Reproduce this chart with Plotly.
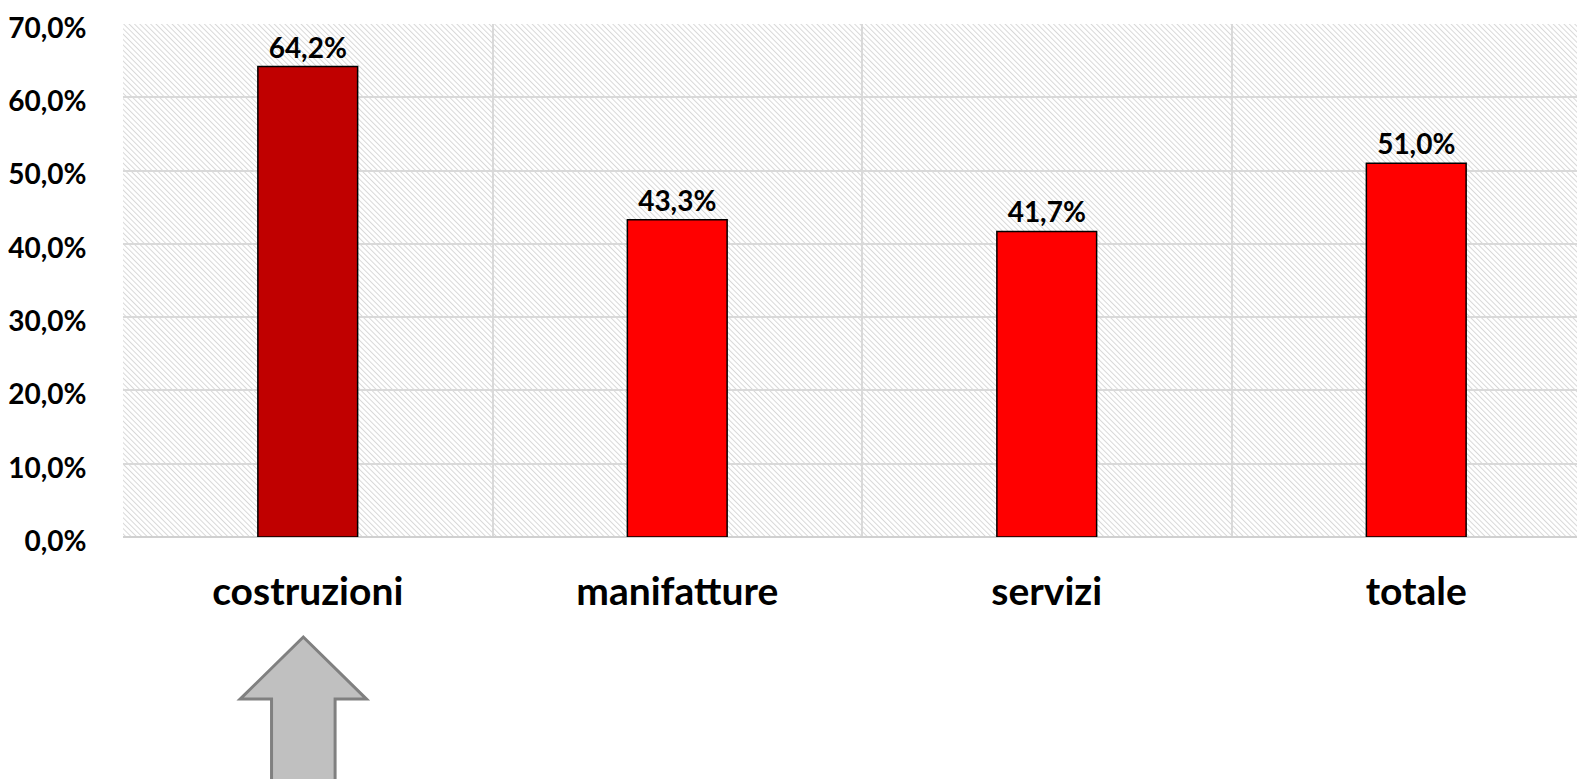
import base64
import plotly.graph_objects as go

categories = ["costruzioni", "manifatture", "servizi", "totale"]
values = [64.2, 43.3, 41.7, 51.0]
bar_colors = ["#c00000", "#ff0000", "#ff0000", "#ff0000"]
y_ticks = [0, 10, 20, 30, 40, 50, 60, 70]
y_ticktext = [f"{v:.1f}%".replace(".", ",") for v in y_ticks]

# page body has an 8px default margin, so the figure starts at (8, 8)
W, H = 1577, 771
ML, MR, MT, MB = 115, 0, 16, 242
PW, PH = W - ML - MR, H - MT - MB

# hatch background (light downward diagonal)
svg = f'''<svg xmlns="http://www.w3.org/2000/svg" width="{PW}" height="{PH}">
<defs><pattern id="p" patternUnits="userSpaceOnUse" width="3.8" height="8" patternTransform="rotate(-45)">
<rect x="0" y="0" width="1" height="8" fill="#d8d8d8"/></pattern></defs>
<rect width="{PW}" height="{PH}" fill="#ffffff"/>
<rect width="{PW}" height="{PH}" fill="url(#p)"/>
</svg>'''
img_src = "data:image/svg+xml;base64," + base64.b64encode(svg.encode()).decode()

n = len(categories)
xpos = list(range(n))
cat_px = 369.5
xmax = -0.5 + PW / cat_px

fig = go.Figure()
fig.add_trace(go.Bar(
    x=xpos, y=values, width=0.27,
    marker=dict(color=bar_colors, line=dict(color="#000000", width=1.5)),
    texttemplate="%{y:.1f}%", textposition="outside", cliponaxis=False,
    textfont=dict(family="Lato", size=28, color="#000000", weight="bold"),
    hoverinfo="skip",
))

# arrow under first category
cx, hw, sw = -0.012, 0.171, 0.086
tip, base, bot = -0.195, -0.316, -0.52
path = (f"M {cx - sw} {bot} L {cx - sw} {base} L {cx - hw} {base} L {cx} {tip} "
        f"L {cx + hw} {base} L {cx + sw} {base} L {cx + sw} {bot} Z")
fig.add_shape(type="path", xref="x", yref="paper", path=path,
              fillcolor="#c0c0c0", line=dict(color="#808080", width=3),
              layer="above")

fig.add_layout_image(dict(source=img_src, xref="paper", yref="paper", x=0, y=1,
                          sizex=1, sizey=1, xanchor="left", yanchor="top",
                          sizing="stretch", layer="below"))

fig.update_layout(
    width=W, height=H,
    margin=dict(l=ML, r=MR, t=MT, b=MB, pad=0, autoexpand=False),
    paper_bgcolor="#ffffff", plot_bgcolor="rgba(0,0,0,0)",
    separators=",.",
    showlegend=False,
    font=dict(family="Lato", color="#000000"),
    xaxis=dict(
        range=[-0.5, xmax], tickvals=xpos, ticktext=categories,
        showgrid=False, zeroline=False, automargin=False,
        ticklabeloverflow="allow",
        ticks="outside", ticklen=20, tickcolor="rgba(0,0,0,0)",
        tickfont=dict(family="Lato", size=39, color="#000000", weight="bold"),
        showline=False,
        minor=dict(tickvals=[i - 0.5 for i in range(n)], showgrid=True,
                   gridcolor="#d9d9d9", gridwidth=2, ticks=""),
    ),
    yaxis=dict(
        range=[0, 70], tickvals=y_ticks, ticktext=y_ticktext,
        showgrid=True, gridcolor="#d9d9d9", gridwidth=2, automargin=False,
        ticklabeloverflow="allow", ticklabelshift=4,
        zeroline=True, zerolinecolor="#d0d0d0", zerolinewidth=2,
        ticks="outside", ticklen=30, tickcolor="rgba(0,0,0,0)",
        tickfont=dict(family="Lato", size=28, color="#000000", weight="bold"),
    ),
)

fig.write_html("out.html")
